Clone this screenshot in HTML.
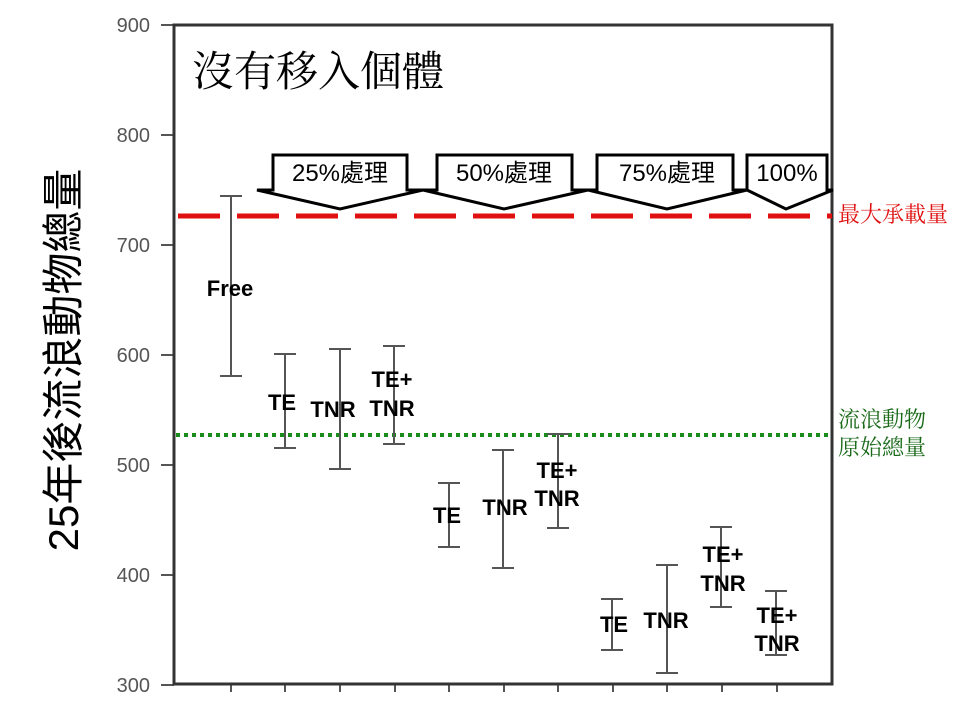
<!DOCTYPE html>
<html><head><meta charset="utf-8"><style>
html,body{margin:0;padding:0;background:#fff;width:960px;height:720px;overflow:hidden}
svg{display:block}
</style></head><body>
<svg width="960" height="720" viewBox="0 0 960 720" xmlns="http://www.w3.org/2000/svg" font-family="Liberation Sans, Noto Sans CJK TC, sans-serif">
<rect x="0" y="0" width="960" height="720" fill="#fff"/>
<g stroke="#555" stroke-width="2">
<line x1="161" y1="25" x2="174" y2="25"/><line x1="161" y1="135" x2="174" y2="135"/>
<line x1="161" y1="245" x2="174" y2="245"/><line x1="161" y1="355" x2="174" y2="355"/>
<line x1="161" y1="465" x2="174" y2="465"/><line x1="161" y1="575" x2="174" y2="575"/>
<line x1="161" y1="685" x2="174" y2="685"/>
</g>
<g fill="#555" font-size="20" text-anchor="end">
<text x="150" y="32">900</text><text x="150" y="142">800</text><text x="150" y="252">700</text>
<text x="150" y="362">600</text><text x="150" y="472">500</text><text x="150" y="582">400</text><text x="150" y="692">300</text>
</g>
<g stroke="#555" stroke-width="2">
<line x1="231" y1="685" x2="231" y2="692"/><line x1="285" y1="685" x2="285" y2="692"/>
<line x1="340" y1="685" x2="340" y2="692"/><line x1="395" y1="685" x2="395" y2="692"/>
<line x1="449" y1="685" x2="449" y2="692"/><line x1="504" y1="685" x2="504" y2="692"/>
<line x1="558" y1="685" x2="558" y2="692"/><line x1="613" y1="685" x2="613" y2="692"/>
<line x1="667" y1="685" x2="667" y2="692"/><line x1="722" y1="685" x2="722" y2="692"/>
<line x1="777" y1="685" x2="777" y2="692"/>
</g>
<rect x="174" y="25" width="658" height="659" fill="none" stroke="#333" stroke-width="3"/>
<text transform="translate(78,360) rotate(-90)" font-size="42" text-anchor="middle" fill="#000">25年後流浪動物總量</text>
<text x="192" y="86" font-size="42" font-family="Noto Serif CJK SC, serif" fill="#000">沒有移入個體</text>
<line x1="178" y1="216" x2="832" y2="216" stroke="#e01010" stroke-width="5" stroke-dasharray="42,17"/>
<line x1="176" y1="435" x2="832" y2="435" stroke="#1a8a1a" stroke-width="4" stroke-dasharray="4,4"/>
<text x="838" y="222" font-size="22" fill="#e01010" font-family="Noto Serif CJK SC, serif">最大承載量</text>
<text x="838" y="427" font-size="22" fill="#1a6a1a" font-family="Noto Serif CJK SC, serif">流浪動物</text>
<text x="838" y="455" font-size="22" fill="#1a6a1a" font-family="Noto Serif CJK SC, serif">原始總量</text>
<g fill="#fff" stroke="#000" stroke-width="3" stroke-linejoin="miter">
<path d="M273,155 H407 V190 L423,190 L340,209 L257,190 H273 Z"/>
<path d="M437,155 H572 V190 L588,190 L504,209 L423,190 H437 Z"/>
<path d="M597,155 H733 V190 L747,190 L667,209 L588,190 H597 Z"/>
<path d="M747,155 H827 V190 L833,190 L786,209 L747,190 Z"/>
</g>
<g font-size="24" fill="#000" text-anchor="middle">
<text x="340" y="181">25%處理</text>
<text x="504" y="181">50%處理</text>
<text x="667" y="181">75%處理</text>
<text x="787" y="181">100%</text>
</g>
<g stroke="#555" stroke-width="2">
<path d="M231,196V376M220,196H242M220,376H242"/>
<path d="M285,354V448M274,354H296M274,448H296"/>
<path d="M340,349V469M329,349H351M329,469H351"/>
<path d="M394,346V444M383,346H405M383,444H405"/>
<path d="M449,483V547M438,483H460M438,547H460"/>
<path d="M503,450V568M492,450H514M492,568H514"/>
<path d="M558,434V528M547,434H569M547,528H569"/>
<path d="M612,599V650M601,599H623M601,650H623"/>
<path d="M667,565V673M656,565H678M656,673H678"/>
<path d="M721,527V607M710,527H732M710,607H732"/>
<path d="M776,591V655M765,591H787M765,655H787"/>
</g>
<g font-size="22" font-weight="bold" fill="#000" text-anchor="middle">
<text x="230" y="296">Free</text>
<text x="282" y="410">TE</text>
<text x="333" y="417">TNR</text>
<text x="392" y="387">TE+</text>
<text x="392" y="416">TNR</text>
<text x="447" y="523">TE</text>
<text x="505" y="515">TNR</text>
<text x="557" y="478">TE+</text>
<text x="557" y="506">TNR</text>
<text x="614" y="632">TE</text>
<text x="666" y="628">TNR</text>
<text x="723" y="562">TE+</text>
<text x="723" y="591">TNR</text>
<text x="777" y="623">TE+</text>
<text x="777" y="651">TNR</text>
</g>
</svg>
</body></html>
